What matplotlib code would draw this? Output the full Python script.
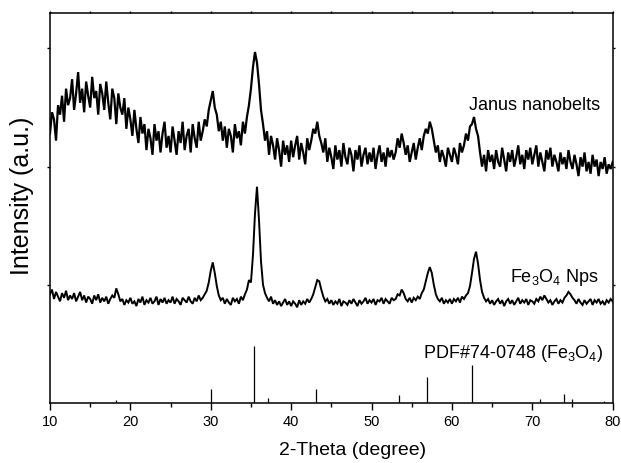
import numpy as np
import matplotlib
matplotlib.use("Agg")
import matplotlib.pyplot as plt
from matplotlib.ticker import MultipleLocator

plt.rcParams['font.family'] = ['Liberation Sans', 'DejaVu Sans']
plt.rcParams['mathtext.default'] = 'regular'

# XRD scans, 2-theta from 10 to 80 deg in 0.25 deg steps, intensity in offset a.u.
two_theta = np.arange(10.0, 80.01, 0.25)

janus = [
    228, 246, 240, 222, 252, 244, 260, 238, 266, 252, 258, 274, 248, 262, 280, 254, 266, 246, 272, 260,
    250, 276, 258, 264, 244, 270, 262, 248, 272, 254, 240, 266, 258, 236, 262, 250, 244, 258, 232, 250,
    240, 226, 248, 232, 220, 242, 228, 236, 214, 232, 224, 210, 236, 222, 230, 212, 228, 238, 216, 226,
    212, 234, 222, 210, 230, 220, 238, 214, 226, 232, 212, 236, 224, 216, 238, 222, 230, 240, 234, 248,
    256, 264, 250, 244, 230, 238, 222, 234, 216, 232, 226, 212, 236, 224, 230, 218, 238, 228, 242, 252,
    266, 284, 297, 288, 270, 248, 236, 222, 230, 210, 226, 218, 206, 224, 214, 200, 222, 210, 218, 204,
    222, 208, 218, 226, 206, 220, 212, 202, 224, 214, 222, 232, 228, 238, 226, 220, 212, 224, 204, 216,
    208, 198, 218, 206, 214, 200, 220, 208, 202, 216, 210, 196, 214, 206, 218, 200, 210, 216, 202, 212,
    204, 216, 198, 210, 218, 204, 212, 200, 216, 208, 214, 206, 212, 224, 216, 228, 220, 210, 218, 204,
    212, 220, 206, 216, 224, 214, 226, 232, 228, 238, 232, 222, 212, 218, 204, 214, 208, 200, 216, 210,
    204, 216, 210, 202, 220, 212, 218, 228, 222, 234, 236, 242, 232, 226, 212, 200, 210, 196, 214, 204,
    210, 198, 214, 204, 200, 216, 206, 196, 212, 204, 214, 200, 208, 218, 202, 210, 198, 214, 206, 216,
    202, 210, 218, 200, 212, 204, 196, 214, 206, 216, 200, 210, 204, 196, 212, 202, 208, 198, 214, 204,
    198, 210, 202, 192, 208, 200, 212, 196, 204, 194, 210, 200, 206, 192, 204, 198, 208, 194, 202, 198,
    204,
]

fe3o4_nps = [
    92, 96, 88, 94, 90, 86, 93, 89, 95, 87, 91, 88, 93, 86, 90, 94, 87, 91, 85, 90,
    88, 84, 91, 87, 92, 85, 89, 86, 90, 84, 88, 91, 89, 97, 92, 86, 88, 83, 87, 85,
    89, 84, 86, 82, 88, 85, 90, 83, 87, 85, 89, 84, 86, 90, 83, 88, 85, 89, 84, 87,
    85, 90, 84, 88, 86, 83, 89, 87, 85, 90, 86, 84, 89, 86, 91, 87, 89, 92, 95, 102,
    112, 119, 110, 99, 91, 87, 89, 84, 88, 85, 83, 89, 86, 88, 84, 90, 87, 92, 96, 104,
    102, 125, 160, 183, 155, 120, 100, 93, 89, 86, 90, 84, 87, 83, 86, 82, 85, 88, 83, 86,
    82, 86, 84, 81, 87, 83, 86, 84, 88, 85, 88, 92, 98, 104, 103, 96, 90, 86, 88, 84,
    87, 83, 86, 84, 88, 82, 86, 85, 83, 87, 84, 88, 85, 82, 87, 84, 86, 89, 84, 87,
    85, 88, 83, 87, 86, 89, 84, 88, 86, 84, 89, 87, 88, 92, 91, 96, 93, 88, 86, 89,
    85, 89, 87, 90, 88, 93, 96, 103, 110, 115, 110, 100, 92, 88, 86, 89, 84, 87, 85, 88,
    84, 88, 86, 89, 85, 90, 88, 91, 93, 99, 110, 122, 128, 118, 104, 94, 89, 86, 88, 84,
    87, 83, 86, 88, 84, 87, 82, 86, 88, 84, 87, 83, 86, 89, 84, 87, 85, 88, 83, 87,
    86, 84, 88, 86, 90, 87, 91, 88, 85, 87, 83, 86, 88, 84, 87, 85, 89, 91, 94, 92,
    89, 87, 84, 88, 85, 83, 87, 84, 86, 88, 83, 87, 85, 88, 84, 86, 83, 87, 85, 88,
    86,
]

# PDF#74-0748 reference lines
pdf_pos = [18.27, 30.09, 35.44, 37.07, 43.07, 53.43, 56.96, 62.55, 70.95, 73.99, 74.99, 78.93]
pdf_int = [2.5, 12, 48, 4, 12, 7, 22, 32, 3, 7.5, 3, 2]

fig = plt.figure(figsize=(6.21, 4.63), dpi=100)
ax = fig.add_axes([0.0805, 0.1296, 0.9061, 0.8423])

ax.plot(two_theta, janus, color='black', lw=1.6, solid_joinstyle='miter')
ax.plot(two_theta, fe3o4_nps, color='black', lw=1.4, solid_joinstyle='miter')
ax.vlines(pdf_pos, 0, pdf_int, color='black', lw=0.9)

ax.set_xlim(10, 80)
ax.set_ylim(0, 330)
ax.xaxis.set_major_locator(MultipleLocator(10))
ax.xaxis.set_minor_locator(MultipleLocator(5))
ax.set_yticks([100, 200, 300])
ax.set_yticklabels([])

ax.tick_params(axis='both', which='both', direction='out', top=True, right=True, width=1.0)
ax.tick_params(axis='x', which='major', length=5, labelsize=10.5, pad=3.5)
ax.tick_params(axis='x', which='minor', length=3)
ax.tick_params(axis='y', length=2)
for t in ax.xaxis.get_major_ticks() + ax.xaxis.get_minor_ticks():
    t.tick2line.set_markersize(1.5)
for t in ax.yaxis.get_major_ticks():
    t.tick2line.set_markersize(1.5)

for s in ax.spines.values():
    s.set_linewidth(1.1)

ax.text(78.5, 248, 'Janus nanobelts', ha='right', va='baseline', fontsize=13)
ax.text(78.3, 102.5, r'Fe$_3$O$_4$ Nps', ha='right', va='baseline', fontsize=13)
ax.text(78.8, 38, r'PDF#74-0748 (Fe$_3$O$_4$)', ha='right', va='baseline', fontsize=13)

ax.set_xlabel('2-Theta (degree)', fontsize=14)
ax.set_ylabel('Intensity (a.u.)', fontsize=18)
ax.xaxis.set_label_coords(0.538, -0.1)
ax.yaxis.set_label_coords(-0.028, 0.53)

fig.savefig('out.png', dpi=100)
